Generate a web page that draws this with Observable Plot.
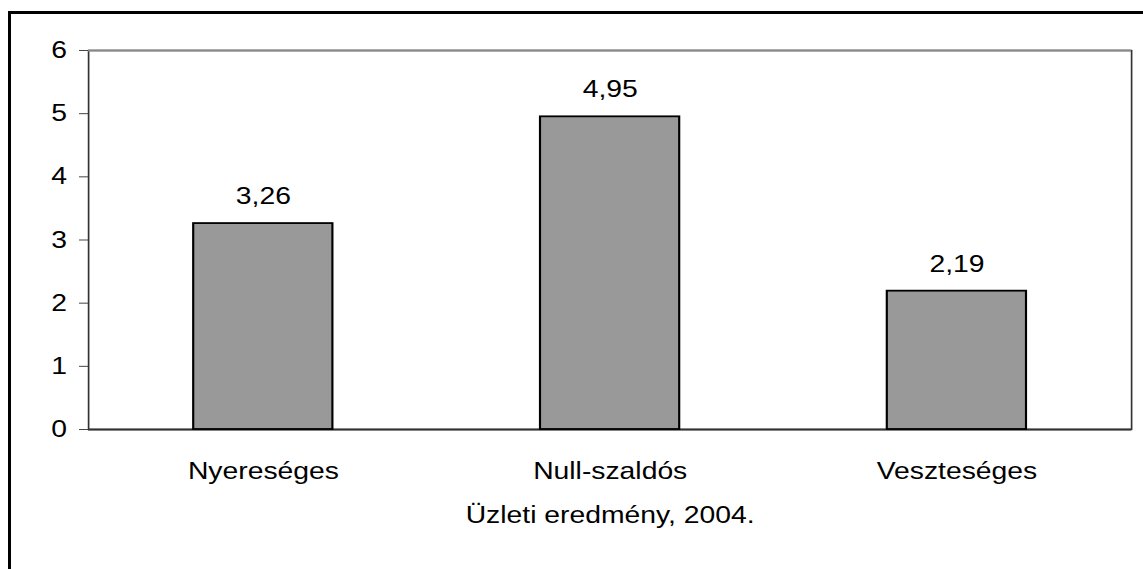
<!DOCTYPE html>
<html>
<head>
<meta charset="utf-8">
<script src="https://cdn.jsdelivr.net/npm/d3@7"></script>
<script src="https://cdn.jsdelivr.net/npm/@observablehq/plot@0.6"></script>
<style>
  html, body { margin: 0; padding: 0; background: #fff; overflow: hidden; }
  #wrap { position: relative; width: 1143px; height: 569px; overflow: hidden; }
  #outer { position: absolute; left: 8px; top: 11px; width: 2000px; height: 2000px;
           border-left: 3px solid #000; border-top: 3px solid #000; pointer-events: none; }
  #chart svg { display: block; }
</style>
</head>
<body>
<div id="wrap"><div id="chart"></div><div id="outer"></div></div>
<script>
const categories = ["Nyereséges", "Null-szaldós", "Veszteséges"];
const values = [3.26, 4.95, 2.19];
const yTicks = [0, 1, 2, 3, 4, 5, 6];
const title = "Üzleti eredmény, 2004.";

const data = categories.map((c, i) => ({cat: c, value: values[i]}));
const fmt = v => v.toFixed(2).replace(".", ",");

const stretch = 1.2;
const W = 1143, H = 569;

const svg = Plot.plot({
  width: W / stretch,
  height: H,
  marginLeft: 88 / stretch,
  marginRight: 12 / stretch,
  marginTop: 50,
  marginBottom: 140,
  style: {fontFamily: "'Liberation Sans', Arial, sans-serif", fontSize: "23.6px", color: "#000", background: "#fff"},
  x: {domain: categories, paddingInner: 0.6, paddingOuter: 0.3},
  y: {domain: [0, 6]},
  marks: [
    Plot.frame({stroke: "#333", strokeWidth: 1.4}),
    Plot.ruleY([6], {stroke: "#888", strokeWidth: 2}),
    Plot.ruleY([0], {stroke: "#333", strokeWidth: 2}),
    Plot.barY(data, {x: "cat", y: "value", fill: "#999999", stroke: "#000", strokeWidth: 1.8}),
    Plot.text(data, {x: "cat", y: "value", text: d => fmt(d.value), dy: -27, fill: "#000"}),
    Plot.axisY({ticks: yTicks, tickSize: 7.5, tickPadding: 10.4, tickFormat: d => String(d), label: null, stroke: "#444"}),
    Plot.axisX({tickSize: 0, tickPadding: 33, label: null}),
    Plot.text([title], {frameAnchor: "bottom", dy: 93, fill: "#000"})
  ]
});

svg.setAttribute("width", W);
svg.setAttribute("height", H);
svg.setAttribute("preserveAspectRatio", "none");
svg.style.width = W + "px";
svg.style.height = H + "px";
svg.style.maxWidth = "none";
document.getElementById("chart").appendChild(svg);
</script>
</body>
</html>
